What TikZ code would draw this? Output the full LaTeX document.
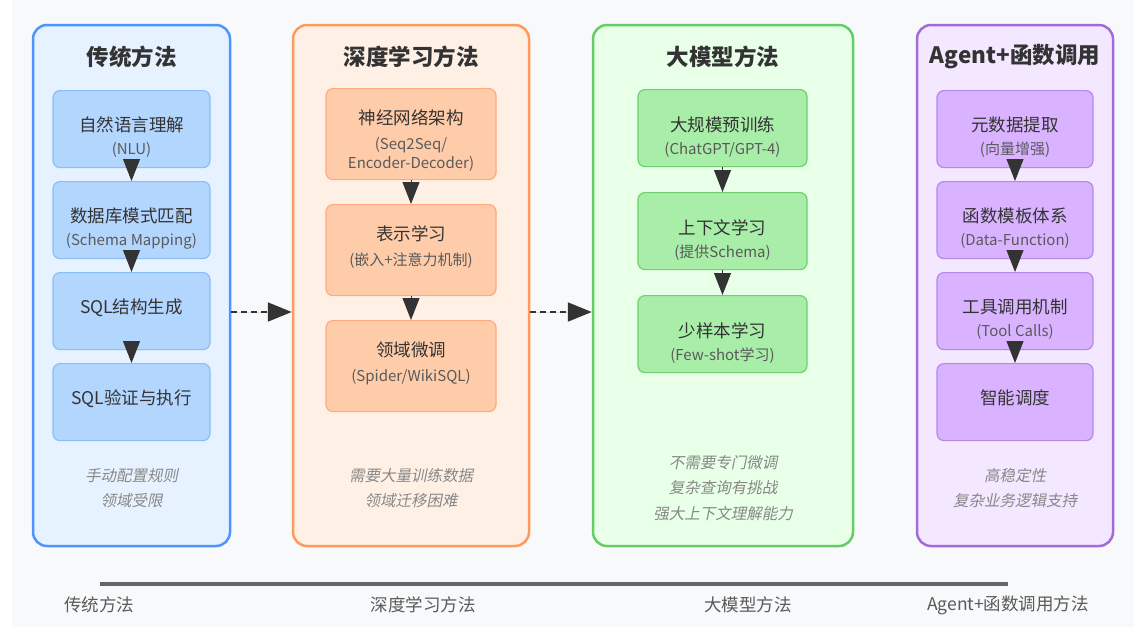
\documentclass[tikz,border=0pt]{standalone}
\usepackage{fontspec}
\setmainfont{Noto Sans CJK SC}
\newfontfamily\slantcjk{Noto Sans CJK SC}[FakeSlant=0.2]
\usetikzlibrary{arrows.meta}

\definecolor{pagebg}{HTML}{F8F9FA}
\definecolor{inktext}{HTML}{333333}
\definecolor{subtext}{HTML}{5A5A5A}
\definecolor{notetext}{HTML}{888888}
\definecolor{tradline}{HTML}{4D94FF}
\definecolor{tradfill}{HTML}{E6F2FF}
\definecolor{tradbox}{HTML}{B3D6FF}
\definecolor{tradedge}{HTML}{8CBEF5}
\definecolor{deepline}{HTML}{FF9A5C}
\definecolor{deepfill}{HTML}{FFF0E6}
\definecolor{deepbox}{HTML}{FFCCAA}
\definecolor{deepedge}{HTML}{FFAA80}
\definecolor{llmline}{HTML}{66CC66}
\definecolor{llmfill}{HTML}{E8FFE8}
\definecolor{llmbox}{HTML}{A8EDA8}
\definecolor{llmedge}{HTML}{70D070}
\definecolor{agentline}{HTML}{A26BD9}
\definecolor{agentfill}{HTML}{F3E8FF}
\definecolor{agentbox}{HTML}{D9B3FF}
\definecolor{agentedge}{HTML}{B587E6}

\begin{document}
\begin{tikzpicture}[x=1pt,y=-1pt,
    panel/.style={draw, line width=2.5pt, rounded corners=14pt, inner sep=0pt, minimum height=521pt},
    stepbox/.style={draw, line width=1.2pt, rounded corners=7pt, inner sep=0pt, anchor=north},
    paneltitle/.style={font=\bfseries\fontsize{22.5}{26}\selectfont, text=inktext},
    maintxt/.style={font=\fontsize{17.5}{21}\selectfont, text=inktext, anchor=base, inner sep=0pt},
    subtxt/.style={font=\fontsize{15}{19}\selectfont, text=subtext, anchor=base, inner sep=0pt, align=center},
    notetxt/.style={font=\slantcjk\fontsize{15.5}{19}\selectfont, text=notetext},
    flowarrow/.style={-{Triangle[width=17pt,length=22pt]}, line width=1pt, draw=inktext, fill=inktext},
    dasharrow/.style={-{Triangle[width=19pt,length=24pt]}, line width=2pt, draw=inktext, fill=inktext, dash pattern=on 6pt off 4pt},
    timelabel/.style={font=\fontsize{17.5}{20}\selectfont, text=subtext}]

    % Page
    \useasboundingbox (0,0) rectangle (1137,643);
    \fill[white] (0,0) rectangle (1137,643);
    \fill[pagebg] (12,0) rectangle (1134,627);

    % Panels
    \node[panel, draw=tradline, fill=tradfill, minimum width=197pt] (trad) at (131.5,285.5) {};
    \node[panel, draw=deepline, fill=deepfill, minimum width=236pt] (deep) at (411,285.5) {};
    \node[panel, draw=llmline, fill=llmfill, minimum width=260pt] (llm) at (723,285.5) {};
    \node[panel, draw=agentline, fill=agentfill, minimum width=196pt] (agent) at (1015,285.5) {};

    \node[paneltitle] (trad-title) at (131.5,57) {传统方法};
    \node[paneltitle] (deep-title) at (411,57) {深度学习方法};
    \node[paneltitle] (llm-title) at (723,57) {大模型方法};
    \node[paneltitle] (agent-title) at (1015,57) {Agent+函数调用};

    % Traditional steps
    \foreach \i/\top/\main/\sub in {1/90/自然语言理解/(NLU), 2/181/数据库模式匹配/(Schema Mapping),
        3/272/SQL结构生成/, 4/363/SQL验证与执行/} {
        \node[stepbox, draw=tradedge, fill=tradbox, minimum width=157pt, minimum height=77pt] (trad-\i) at (131.5,\top) {};
        \node[maintxt] (trad-\i-main) at ([yshift=-41.5pt]trad-\i.north) {\main};
        \node[subtxt] (trad-\i-sub) at ([yshift=-64.5pt]trad-\i.north) {\sub};
    }

    % Deep learning steps (sub text sits on its last line)
    \foreach \i/\top/\low/\main/\sub in {1/88/80.5/神经网络架构/{(Seq2Seq/\\Encoder-Decoder)}, 2/204/61.5/表示学习/(嵌入+注意力机制),
        3/320/61.5/领域微调/{(Spider/WikiSQL)}} {
        \node[stepbox, draw=deepedge, fill=deepbox, minimum width=170pt, minimum height=91pt] (deep-\i) at (411,\top) {};
        \node[maintxt] (deep-\i-main) at ([yshift=-36.5pt]deep-\i.north) {\main};
        \node[subtxt] (deep-\i-sub) at ([yshift=-\low pt]deep-\i.north) {\sub};
    }

    % LLM steps
    \foreach \i/\top/\main/\sub in {1/89/大规模预训练/{(ChatGPT/GPT-4)}, 2/192/上下文学习/(提供Schema),
        3/295/少样本学习/(Few-shot学习)} {
        \node[stepbox, draw=llmedge, fill=llmbox, minimum width=169pt, minimum height=77pt] (llm-\i) at (722.5,\top) {};
        \node[maintxt] (llm-\i-main) at ([yshift=-42.5pt]llm-\i.north) {\main};
        \node[subtxt] (llm-\i-sub) at ([yshift=-65.5pt]llm-\i.north) {\sub};
    }

    % Agent steps
    \foreach \i/\top/\main/\sub in {1/90/元数据提取/(向量增强), 2/181/函数模板体系/(Data-Function),
        3/272/工具调用机制/(Tool Calls), 4/363/智能调度/} {
        \node[stepbox, draw=agentedge, fill=agentbox, minimum width=156pt, minimum height=77pt] (agent-\i) at (1015,\top) {};
        \node[maintxt] (agent-\i-main) at ([yshift=-41.5pt]agent-\i.north) {\main};
        \node[subtxt] (agent-\i-sub) at ([yshift=-64.5pt]agent-\i.north) {\sub};
    }

    % Arrows inside panels
    \foreach \a/\b in {1/2,2/3,3/4} {
        \draw[flowarrow] (trad-\a.south) -- (trad-\b.north);
        \draw[flowarrow] (agent-\a.south) -- (agent-\b.north);
    }
    \foreach \a/\b in {1/2,2/3} {
        \draw[flowarrow] (deep-\a.south) -- (deep-\b.north);
        \draw[flowarrow] (llm-\a.south) -- (llm-\b.north);
    }

    % Arrows between panels
    \coordinate (link) at (0,312);
    \draw[dasharrow] (trad.east |- link) -- (deep.west |- link);
    \draw[dasharrow] (deep.east |- link) -- (llm.west |- link);

    % Notes
    \node[notetxt] (trad-note1) at (131.5,476) {手动配置规则};
    \node[notetxt] (trad-note2) at (131.5,501) {领域受限};
    \node[notetxt] (deep-note1) at (411,476) {需要大量训练数据};
    \node[notetxt] (deep-note2) at (411,501) {领域迁移困难};
    \node[notetxt] (llm-note1) at (723,463) {不需要专门微调};
    \node[notetxt] (llm-note2) at (723,488) {复杂查询有挑战};
    \node[notetxt] (llm-note3) at (723,514) {强大上下文理解能力};
    \node[notetxt] (agent-note1) at (1015,476) {高稳定性};
    \node[notetxt] (agent-note2) at (1015,501) {复杂业务逻辑支持};

    % Timeline
    \coordinate (tl-start) at (100,584);
    \coordinate (tl-end) at (1008,584);
    \draw[line width=3.5pt, draw=black!60] (tl-start) -- (tl-end);
    \node[timelabel] (tl-trad) at (99,605) {传统方法};
    \node[timelabel] (tl-deep) at (423,605) {深度学习方法};
    \node[timelabel] (tl-llm) at (748,605) {大模型方法};
    \node[timelabel] (tl-agent) at (1008,605) {Agent+函数调用方法};
\end{tikzpicture}
\end{document}
